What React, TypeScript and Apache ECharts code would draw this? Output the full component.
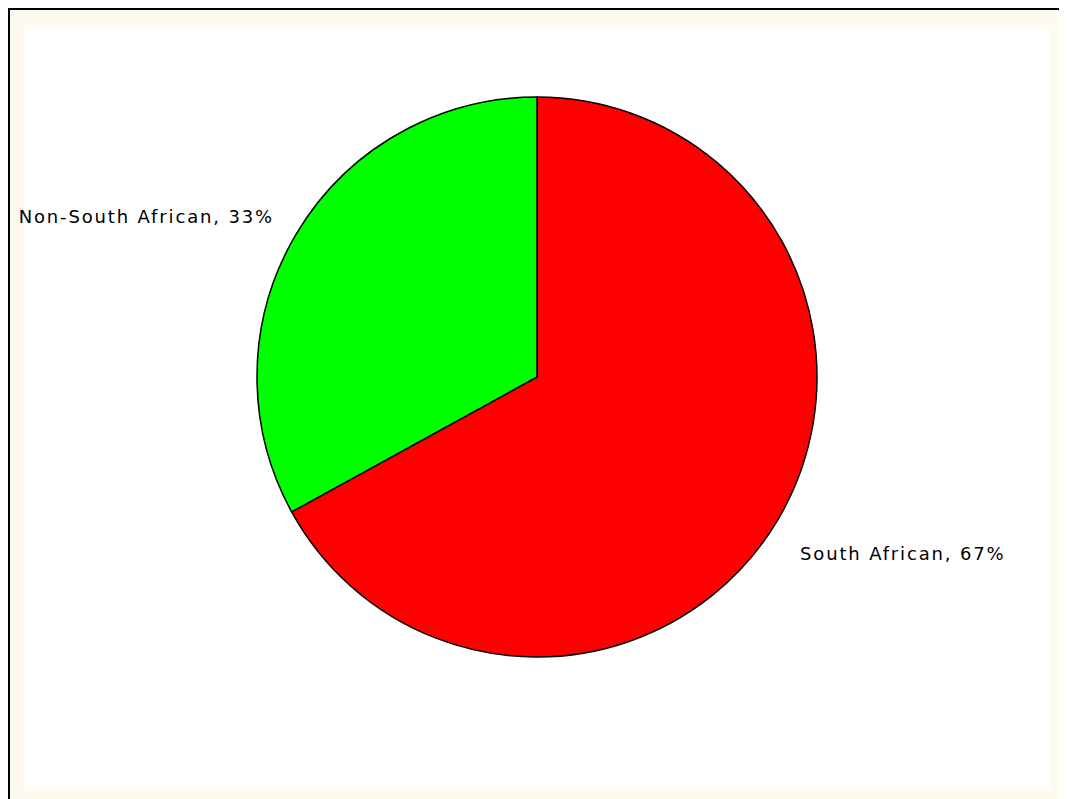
import React, { useEffect, useRef } from "react";
import * as echarts from "echarts";

const categories = ["South African", "Non-South African"];
const values = [67, 33];
const colors = ["#ff0000", "#00ff00"];

export default function App() {
  const ref = useRef<HTMLDivElement>(null);
  useEffect(() => {
    if (!ref.current) return;
    const chart = echarts.init(ref.current, undefined, { renderer: "svg" });
    const labelPos = [
      { x: 792, y: 545, align: "left" },
      { x: 266, y: 208, align: "right" },
    ];
    chart.setOption({
      animation: false,
      backgroundColor: "#fffaef",
      graphic: [
        { type: "rect", shape: { x: 16, y: 20, width: 1026, height: 761 }, style: { fill: "#ffffff" }, silent: true, z: -10 },
        { type: "rect", shape: { x: 0, y: 0, width: 2, height: 791 }, style: { fill: "#000000" }, silent: true },
        { type: "rect", shape: { x: 0, y: 0, width: 1059, height: 2 }, style: { fill: "#000000" }, silent: true },
      ],
      series: [
        {
          type: "pie",
          center: [529, 369],
          radius: 280,
          startAngle: 90,
          clockwise: true,
          data: categories.map((c, i) => ({
            name: c,
            value: values[i],
            itemStyle: { color: colors[i] },
          })),
          itemStyle: { borderColor: "#000000", borderWidth: 1.5 },
          label: {
            show: true,
            position: "outside",
            formatter: (p: any) => `${p.name}, ${p.value}%`,
            fontFamily: "DejaVu Sans, sans-serif",
            fontSize: 18,
            color: "#000000",
          },
          labelLine: { show: false },
          labelLayout: (p: any) => {
            const l = labelPos[p.dataIndex];
            return { x: l.x, y: l.y, align: l.align, verticalAlign: "middle" };
          },
          emphasis: { disabled: true },
        },
      ],
    });
    return () => chart.dispose();
  }, []);
  return <div ref={ref} style={{ width: 1059, height: 791, letterSpacing: "1.85px" }} />;
}
